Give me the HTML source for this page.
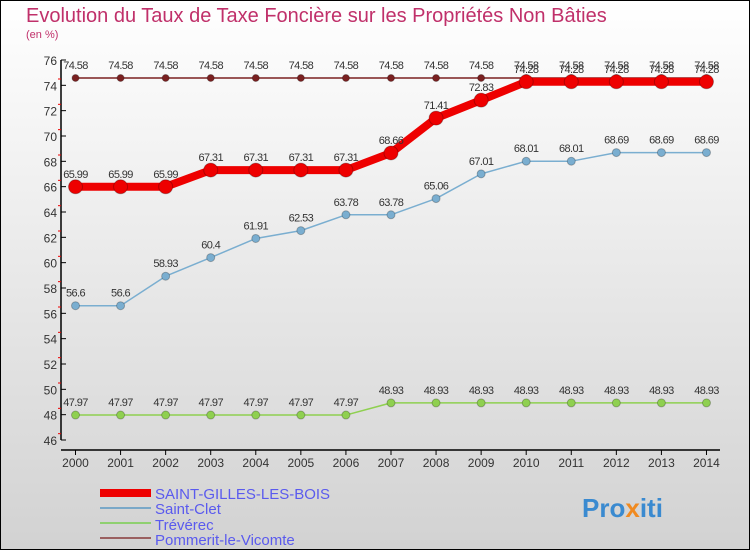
<!DOCTYPE html>
<html><head><meta charset="utf-8"><style>
body{margin:0}
#c{width:750px;height:550px;position:relative;font-family:"Liberation Sans",sans-serif;}
</style></head><body>
<div id="c">
<svg id="s" width="750" height="550" xmlns="http://www.w3.org/2000/svg">
<defs><linearGradient id="bg" x1="0" y1="0" x2="0" y2="1"><stop offset="0" stop-color="#ffffff"/><stop offset="1" stop-color="#d2d2d2"/></linearGradient></defs>
<rect x="0.5" y="0.5" width="749" height="549" fill="url(#bg)" stroke="#000"/>
<text x="26" y="22" font-size="20" fill="#c0306a">Evolution du Taux de Taxe Foncière sur les Propriétés Non Bâties</text>
<text x="26" y="38" font-size="11" fill="#c0306a">(en %)</text>
<g id="axes"></g><g id="series"></g>
<g>
<rect x="100" y="489" width="51" height="8" fill="#e00"/>
<text x="155" y="499" font-size="15" fill="#5a5aee">SAINT-GILLES-LES-BOIS</text>
<line x1="100" y1="508" x2="151" y2="508" stroke="#7aa8c8" stroke-width="2"/>
<text x="155" y="514" font-size="15" fill="#5a5aee">Saint-Clet</text>
<line x1="100" y1="523" x2="151" y2="523" stroke="#8fd070" stroke-width="2"/>
<text x="155" y="530" font-size="15" fill="#5a5aee">Trévérec</text>
<line x1="100" y1="538" x2="151" y2="538" stroke="#9a6060" stroke-width="2"/>
<text x="155" y="545" font-size="15" fill="#5a5aee">Pommerit-le-Vicomte</text>
</g>
<text x="582" y="517" font-size="26" font-weight="bold" fill="#3a8ad0">Pro<tspan fill="#f08a20">x</tspan>iti</text>
</svg></div>
<script>
const years=[2000,2001,2002,2003,2004,2005,2006,2007,2008,2009,2010,2011,2012,2013,2014];
const yTicks=[46,48,50,52,54,56,58,60,62,64,66,68,70,72,74,76];
const sgb=[65.99,65.99,65.99,67.31,67.31,67.31,67.31,68.66,71.41,72.83,74.28,74.28,74.28,74.28,74.28];
const clet=[56.6,56.6,58.93,60.4,61.91,62.53,63.78,63.78,65.06,67.01,68.01,68.01,68.69,68.69,68.69];
const trev=[47.97,47.97,47.97,47.97,47.97,47.97,47.97,48.93,48.93,48.93,48.93,48.93,48.93,48.93,48.93];
const pomm=[74.58,74.58,74.58,74.58,74.58,74.58,74.58,74.58,74.58,74.58,74.58,74.58,74.58,74.58,74.58];
const NS="http://www.w3.org/2000/svg";
const X=i=>75.5+i*45.07, Y=v=>440-(v-46)*12.667;
function mk(t,a,p){const e=document.createElementNS(NS,t);for(const k in a)e.setAttribute(k,a[k]);p.appendChild(e);return e;}
const ax=document.getElementById('axes');
const yl=mk('line',{x1:61,y1:60,x2:61,y2:440,stroke:'#000','stroke-width':1.5},ax);


const xl=mk('line',{x1:61,y1:450,x2:720,y2:450,stroke:'#000','stroke-width':1.5},ax);


yTicks.forEach(v=>{const y=Y(v);
mk('line',{x1:61,y1:y,x2:66,y2:y,stroke:'#000'},ax);
if(v<76)mk('line',{x1:58,y1:y-6.33,x2:61,y2:y-6.33,stroke:'#e00'},ax);
const t=mk('text',{x:57,y:y+5,'font-size':12,'text-anchor':'end',fill:'#333'},ax);t.textContent=v;

});
years.forEach((yr,i)=>{const x=X(i);
mk('line',{x1:x,y1:450,x2:x,y2:455,stroke:'#000'},ax);
const t=mk('text',{x:x,y:467,'font-size':12,'text-anchor':'middle',fill:'#333'},ax);t.textContent=yr;

});
const sg=document.getElementById('series');
function series(vals,col,lw,r,name){
const g=mk('g',{},sg);


mk('polyline',{points:vals.map((v,i)=>X(i)+','+Y(v)).join(' '),fill:'none',stroke:col,'stroke-width':lw,'stroke-linejoin':'round'},g);
vals.forEach((v,i)=>{const c=mk('circle',{cx:X(i),cy:Y(v),r:r,fill:col,stroke:'rgba(0,0,0,0.25)'},g);


const t=mk('text',{x:X(i),y:Y(v)-9,'font-size':11,'text-anchor':'middle',fill:'#333','letter-spacing':'-0.6'},g);t.textContent=v;

});}
series(trev,'#8fd050',1.5,4,'series-treverec');
series(clet,'#7aaed0',1.5,4,'series-saint-clet');
series(pomm,'#7a2020',1.5,3.5,'series-pommerit');
series(sgb,'#ee0000',8,7,'series-saint-gilles');
</script>
</body></html>
